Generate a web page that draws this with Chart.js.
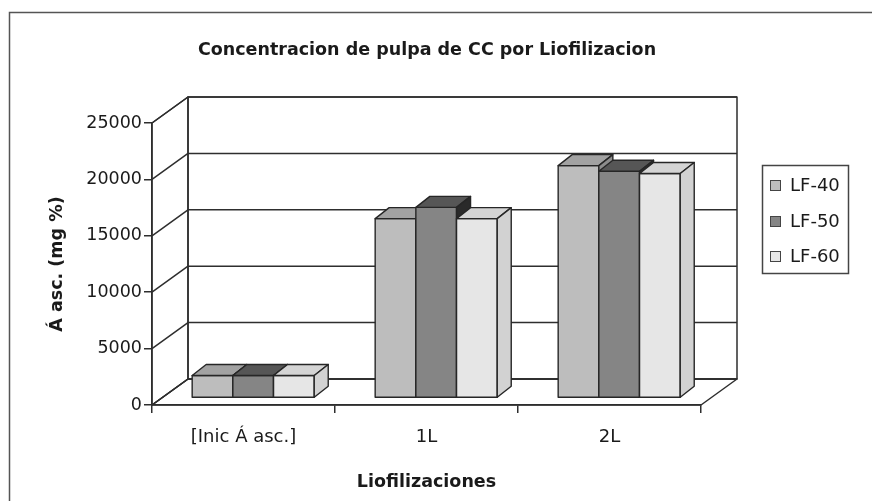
<!DOCTYPE html>
<html>
<head>
<meta charset="utf-8">
<title>Concentracion de pulpa de CC por Liofilizacion</title>
<script src="https://cdn.jsdelivr.net/npm/chart.js@4.4.0/dist/chart.umd.min.js"></script>
<style>
    html, body { margin: 0; padding: 0; background: #fff; }
    canvas { display: block; }
</style>
</head>
<body>
<canvas id="grafico" width="872" height="501"></canvas>
<script>
// dados
const categorias = ['[Inic Á asc.]', '1L', '2L'];
const series = ['LF-40', 'LF-50', 'LF-60'];
const lf40 = [2000, 15900, 20600];
const lf50 = [2000, 16900, 20100];
const lf60 = [2000, 15900, 19900];
const ticksY = [0, 5000, 10000, 15000, 20000, 25000];

const titulo = 'Concentracion de pulpa de CC por Liofilizacion';
const tituloY = 'Á asc. (mg %)';
const tituloX = 'Liofilizaciones';

const fonte = "'DejaVu Sans', sans-serif";
const corLinha = '#2e2e2e';
const corTexto = '#1a1a1a';

// cores: frente, topo, lateral
const cores = [
    ['#bdbdbd', '#a2a2a2', '#8c8c8c'],
    ['#858585', '#565656', '#2a2a2a'],
    ['#e6e6e6', '#d4d4d4', '#d2d2d2']
];

// profundidade das paredes e das barras (efeito 3D)
const parede = { dx: 36, dy: -26 };
const barra = { ox: 9.7, oy: -7, dx: 14, dy: -11 };

function poligono(ctx, pts, fill) {
    ctx.beginPath();
    ctx.moveTo(pts[0][0], pts[0][1]);
    for (let i = 1; i < pts.length; i++) ctx.lineTo(pts[i][0], pts[i][1]);
    ctx.closePath();
    if (fill) {
        ctx.fillStyle = fill;
        ctx.fill();
    }
    ctx.stroke();
}

const efeito3d = {
    id: 'efeito3d',
    beforeDraw(chart) {
        const ctx = chart.ctx;
        ctx.save();
        ctx.fillStyle = '#fff';
        ctx.fillRect(0, 0, chart.width, chart.height);
        // moldura externa
        ctx.strokeStyle = '#555';
        ctx.lineWidth = 1.5;
        ctx.strokeRect(9.5, 12.5, chart.width + 20, chart.height + 20);
        ctx.restore();
    },
    beforeDatasetsDraw(chart) {
        const ctx = chart.ctx;
        const a = chart.chartArea;
        const ys = chart.scales.y;
        const L = a.left, R = a.right, T = a.top, B = a.bottom;
        const dx = parede.dx, dy = parede.dy;

        ctx.save();
        ctx.strokeStyle = corLinha;
        ctx.lineWidth = 1.5;
        ctx.lineJoin = 'round';

        // parede de fundo, lateral e chão
        poligono(ctx, [[L + dx, T + dy], [R + dx, T + dy], [R + dx, B + dy], [L + dx, B + dy]]);
        poligono(ctx, [[L, T], [L + dx, T + dy], [L + dx, B + dy], [L, B]]);
        poligono(ctx, [[L, B], [R, B], [R + dx, B + dy], [L + dx, B + dy]]);

        // linhas de grade
        ticksY.forEach(v => {
            const y = ys.getPixelForValue(v);
            ctx.beginPath();
            ctx.moveTo(L, y);
            ctx.lineTo(L + dx, y + dy);
            ctx.lineTo(R + dx, y + dy);
            ctx.stroke();
        });

        // barras 3D
        ctx.strokeStyle = '#262626';
        ctx.lineWidth = 1.4;
        for (let i = 0; i < categorias.length; i++) {
            chart.data.datasets.forEach((ds, d) => {
                const el = chart.getDatasetMeta(d).data[i];
                const x0 = el.x - el.width / 2 + barra.ox;
                const x1 = el.x + el.width / 2 + barra.ox;
                const top = el.y + barra.oy;
                const bot = el.base + barra.oy;
                const c = cores[d];
                poligono(ctx, [[x0, top], [x1, top], [x1, bot], [x0, bot]], c[0]);
                poligono(ctx, [[x0, top], [x0 + barra.dx, top + barra.dy], [x1 + barra.dx, top + barra.dy], [x1, top]], c[1]);
                poligono(ctx, [[x1, top], [x1 + barra.dx, top + barra.dy], [x1 + barra.dx, bot + barra.dy], [x1, bot]], c[2]);
            });
        }
        ctx.restore();
        return false;
    },
    afterDraw(chart) {
        const ctx = chart.ctx;
        ctx.save();
        ctx.fillStyle = corTexto;
        ctx.textBaseline = 'middle';

        // título
        ctx.font = "bold 17.5px " + fonte;
        ctx.textAlign = 'center';
        ctx.fillText(titulo, 427, 50);

        // legenda
        ctx.strokeStyle = '#444';
        ctx.lineWidth = 1.5;
        ctx.strokeRect(762.5, 165.5, 86, 108);
        ctx.font = "18px " + fonte;
        ctx.textAlign = 'left';
        const ys = [186, 222, 257];
        chart.data.datasets.forEach((ds, d) => {
            ctx.fillStyle = cores[d][0];
            ctx.strokeStyle = '#444';
            ctx.lineWidth = 1;
            ctx.fillRect(770.5, ys[d] - 5.5, 10, 10);
            ctx.strokeRect(770.5, ys[d] - 5.5, 10, 10);
            ctx.fillStyle = corTexto;
            ctx.fillText(ds.label, 790, ys[d]);
        });
        ctx.restore();
    }
};

const ctx = document.getElementById('grafico').getContext('2d');

const grafico = new Chart(ctx, {
    type: 'bar',
    data: {
        labels: categorias,
        datasets: [
            { label: series[0], data: lf40, backgroundColor: cores[0][0] },
            { label: series[1], data: lf50, backgroundColor: cores[1][0] },
            { label: series[2], data: lf60, backgroundColor: cores[2][0] }
        ]
    },
    options: {
        responsive: false,
        animation: false,
        categoryPercentage: 0.667,
        barPercentage: 1,
        layout: {
            padding: { left: 10, right: 171, top: 123, bottom: 0 }
        },
        plugins: {
            legend: { display: false },
            title: { display: false },
            tooltip: { enabled: false }
        },
        scales: {
            x: {
                grid: { offset: true, drawOnChartArea: false, tickLength: 8, color: corLinha, lineWidth: 1.5 },
                border: { color: corLinha, width: 1.5 },
                ticks: { font: { family: fonte, size: 18 }, color: corTexto, padding: 14 },
                title: {
                    display: true,
                    text: tituloX,
                    font: { family: fonte, size: 17.5, weight: 'bold' },
                    color: corTexto,
                    padding: { top: 0, bottom: 8 }
                },
                afterFit(s) { s.height = 96; }
            },
            y: {
                min: 0,
                max: 25000,
                grid: { drawOnChartArea: false, tickLength: 8, color: corLinha, lineWidth: 1.5 },
                border: { color: corLinha, width: 1.5 },
                ticks: {
                    font: { family: fonte, size: 17.5 },
                    color: corTexto,
                    padding: 2,
                    callback: v => String(v)
                },
                afterBuildTicks(s) { s.ticks = ticksY.map(v => ({ value: v })); },
                title: {
                    display: true,
                    text: tituloY,
                    font: { family: fonte, size: 17.5, weight: 'bold' },
                    color: corTexto,
                    padding: { top: 37, bottom: 0 }
                },
                afterFit(s) { s.width = 142; }
            }
        }
    },
    plugins: [efeito3d]
});
</script>
</body>
</html>
